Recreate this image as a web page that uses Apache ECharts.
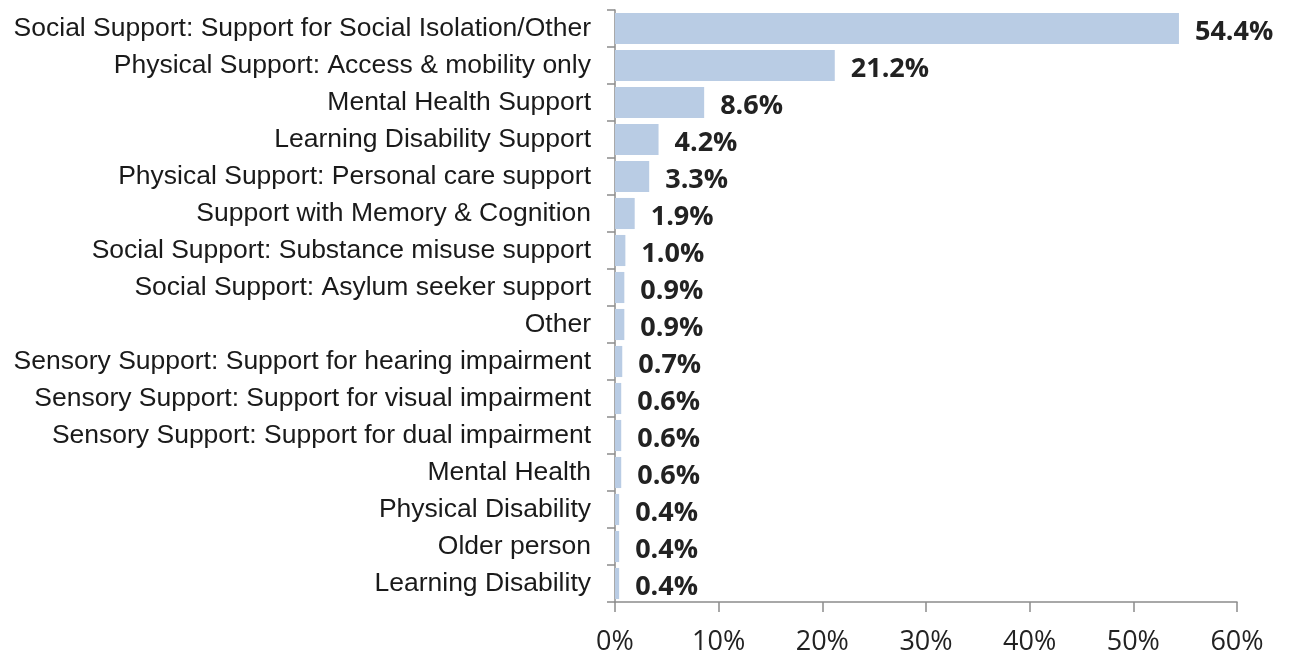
<!DOCTYPE html>
<html>
<head>
<meta charset="utf-8">
<script src="https://cdn.jsdelivr.net/npm/echarts@6/dist/echarts.min.js"></script>
<style>
  html, body { margin: 0; padding: 0; background: #fff; }
  #chart { width: 1293px; height: 659px; }
</style>
</head>
<body>
<div id="chart"></div>
<script>
// categories listed top to bottom
var categories = [
    'Social Support: Support for Social Isolation/Other',
    'Physical Support: Access & mobility only',
    'Mental Health Support',
    'Learning Disability Support',
    'Physical Support: Personal care support',
    'Support with Memory & Cognition',
    'Social Support: Substance misuse support',
    'Social Support: Asylum seeker support',
    'Other',
    'Sensory Support: Support for hearing impairment',
    'Sensory Support: Support for visual impairment',
    'Sensory Support: Support for dual impairment',
    'Mental Health',
    'Physical Disability',
    'Older person',
    'Learning Disability'
];
var values = [54.4, 21.2, 8.6, 4.2, 3.3, 1.9, 1.0, 0.9, 0.9, 0.7, 0.6, 0.6, 0.6, 0.4, 0.4, 0.4];
var xTicks = [0, 10, 20, 30, 40, 50, 60];

var chart = echarts.init(document.getElementById('chart'));
var axisColor = '#8c8c8c';

var option = {
    backgroundColor: '#fff',
    animation: false,
    grid: { left: 615, right: 56, top: 10, bottom: 57, containLabel: false },
    xAxis: {
        type: 'value',
        min: xTicks[0],
        max: xTicks[xTicks.length - 1],
        interval: 10,
        axisLine: { show: true, lineStyle: { color: axisColor, width: 1.5 } },
        axisTick: { show: true, inside: false, length: 10, lineStyle: { color: axisColor, width: 1.5 } },
        splitLine: { show: false },
        axisLabel: {
            margin: 27,
            color: '#222',
            fontFamily: 'Open Sans',
            fontSize: 27,
            formatter: function (v) { return v + '%'; }
        }
    },
    yAxis: {
        type: 'category',
        inverse: true,
        data: categories,
        axisLine: { show: true, lineStyle: { color: axisColor, width: 1.5 } },
        axisTick: { show: true, inside: false, length: 8, alignWithLabel: false, lineStyle: { color: axisColor, width: 1.5 } },
        axisLabel: {
            margin: 24,
            color: '#1a1a1a',
            fontFamily: '"Liberation Sans", Arial, sans-serif',
            fontSize: 26.5,
            padding: [3, 0, 0, 0]
        }
    },
    series: [{
        type: 'bar',
        data: values,
        barCategoryGap: '16%',
        itemStyle: { color: '#b9cce4' },
        label: {
            show: true,
            position: 'right',
            distance: 16,
            offset: [0, 4],
            color: '#222',
            fontFamily: 'Open Sans',
            fontWeight: 'bold',
            fontSize: 27,
            formatter: function (p) { return p.value.toFixed(1) + '%'; }
        }
    }]
};

chart.setOption(option);
</script>
</body>
</html>
